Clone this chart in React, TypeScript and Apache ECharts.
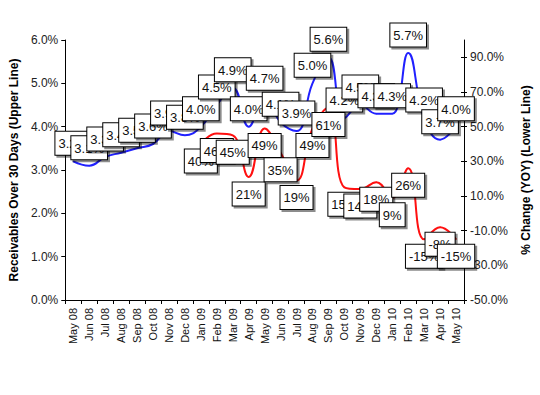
import React, { useEffect, useRef } from "react";
import * as echarts from "echarts";

const months = [
  "May 08", "Jun 08", "Jul 08", "Aug 08", "Sep 08", "Oct 08", "Nov 08", "Dec 08",
  "Jan 09", "Feb 09", "Mar 09", "Apr 09", "May 09", "Jun 09", "Jul 09", "Aug 09",
  "Sep 09", "Oct 09", "Nov 09", "Dec 09", "Jan 10", "Feb 10", "Mar 10", "Apr 10", "May 10",
];

const receivablesOver30 = [
  3.2, 3.1, 3.3, 3.4, 3.5, 3.6, 3.9, 3.8, 4.0, 4.5, 4.9, 4.0, 4.7,
  4.1, 3.9, 5.0, 5.6, 4.2, 4.5, 4.3, 4.3, 5.7, 4.2, 3.7, 4.0,
];

const yoyChange: (number | null)[] = [
  null, null, null, null, null, null, null, null,
  40, 46, 45, 21, 49, 35, 19, 49, 61, 15, 14, 18, 9, 26, -15, -8, -15,
];

const leftTicks = [0, 1, 2, 3, 4, 5, 6];
const rightTicks = [-50, -30, -10, 10, 30, 50, 70, 90];

const boxLabel = {
  show: true,
  fontFamily: "Arial, 'Liberation Sans', sans-serif",
  fontSize: 13,
  lineHeight: 14,
  color: "#111",
  backgroundColor: "#fff",
  borderColor: "#000",
  borderWidth: 1,
  padding: [5, 3, 4, 3],
  shadowColor: "rgba(0,0,0,0.45)",
  shadowOffsetX: 2,
  shadowOffsetY: 2,
  shadowBlur: 1,
};

export default function App() {
  const ref = useRef<HTMLDivElement>(null);

  useEffect(() => {
    if (!ref.current) return;
    const chart = echarts.init(ref.current, undefined, { renderer: "svg" });
    const font = "Arial, 'Liberation Sans', sans-serif";
    chart.setOption({
      animation: false,
      backgroundColor: "#fff",
      grid: { left: 56, right: 75, top: 40, bottom: 95, containLabel: false },
      xAxis: {
        type: "category",
        data: months,
        boundaryGap: true,
        axisLine: { lineStyle: { color: "#000", width: 1 } },
        axisTick: { show: true, length: 4, lineStyle: { color: "#000" } },
        axisLabel: {
          rotate: 90,
          interval: 0,
          margin: 8,
          fontSize: 11,
          fontFamily: font,
          color: "#111",
        },
        splitLine: { show: false },
      },
      yAxis: [
        {
          type: "value",
          position: "left",
          min: 0,
          max: 6,
          interval: 1,
          name: "Receivables Over 30 Days (Upper Line)",
          nameLocation: "middle",
          nameRotate: 90,
          nameGap: 44,
          nameTextStyle: { fontFamily: font, fontSize: 12, fontWeight: "bold", color: "#000" },
          axisLine: { show: true, lineStyle: { color: "#000" } },
          axisTick: { show: true, length: 4, lineStyle: { color: "#000" }, customValues: leftTicks },
          axisLabel: {
            customValues: leftTicks,
            formatter: (v: number) => v.toFixed(1) + "%",
            fontSize: 12,
            fontFamily: font,
            color: "#222",
            margin: 7,
          },
          splitLine: { show: false },
        },
        {
          type: "value",
          position: "right",
          min: -50,
          max: 100,
          name: "% Change (YOY) (Lower Line)",
          nameLocation: "middle",
          nameRotate: 90,
          nameGap: 56,
          nameTextStyle: { fontFamily: font, fontSize: 12, fontWeight: "bold", color: "#000" },
          axisLine: { show: true, lineStyle: { color: "#000" } },
          axisTick: { show: true, length: 3, lineStyle: { color: "#000" }, customValues: rightTicks },
          axisLabel: {
            customValues: rightTicks,
            formatter: (v: number) => v.toFixed(1) + "%",
            fontSize: 12,
            fontFamily: font,
            color: "#222",
            margin: 6,
          },
          splitLine: { show: false },
        },
        {
          type: "value",
          position: "right",
          min: -50,
          max: 100,
          axisLine: { show: false },
          axisTick: {
            show: true,
            inside: true,
            length: 3,
            lineStyle: { color: "#000" },
            customValues: rightTicks,
          },
          axisLabel: { show: false },
          splitLine: { show: false },
        },
      ],
      series: [
        {
          name: "Receivables Over 30 Days",
          type: "line",
          yAxisIndex: 0,
          data: receivablesOver30,
          smooth: 0.45,
          symbol: "circle",
          symbolSize: 1,
          showSymbol: true,
          itemStyle: { color: "#2020ff" },
          lineStyle: { color: "#2020ff", width: 2 },
          label: {
            ...boxLabel,
            position: "top",
            distance: 6,
            formatter: (p: any) => Number(p.value).toFixed(1) + "%",
          },
          z: 3,
        },
        {
          name: "% Change (YOY)",
          type: "line",
          yAxisIndex: 1,
          data: yoyChange,
          smooth: 0.45,
          connectNulls: false,
          symbol: "circle",
          symbolSize: 1,
          showSymbol: true,
          itemStyle: { color: "#ff1010" },
          lineStyle: { color: "#ff1010", width: 2 },
          label: {
            ...boxLabel,
            position: "bottom",
            distance: 5,
            formatter: (p: any) => String(p.value) + "%",
          },
          z: 3,
        },
      ],
    });
    return () => chart.dispose();
  }, []);

  return (
    <div
      ref={ref}
      style={{ position: "fixed", left: 0, top: 0, width: 540, height: 395, background: "#fff" }}
    />
  );
}
